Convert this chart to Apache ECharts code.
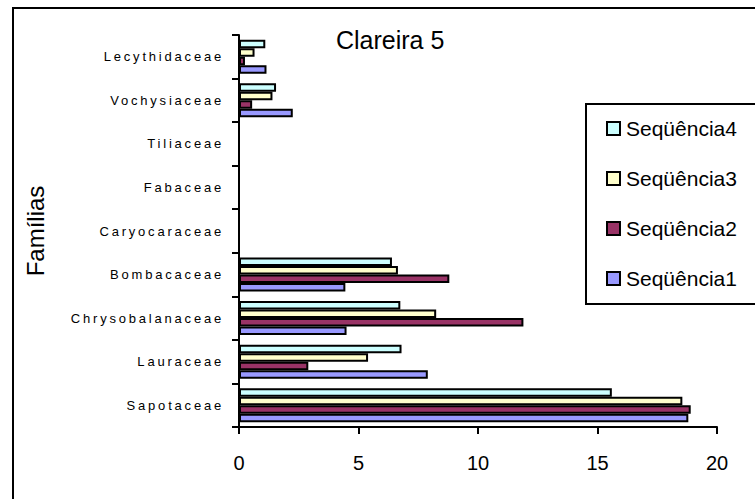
<!DOCTYPE html>
<html>
<head>
<meta charset="utf-8">
<script src="https://cdn.jsdelivr.net/npm/echarts@6/dist/echarts.min.js"></script>
<style>
  html, body { margin: 0; padding: 0; background: #fff; overflow: hidden; }
  #wrap { position: relative; width: 755px; height: 499px; }
  #chart { width: 755px; height: 499px; }
  /* outer frame: only its top and left edges lie inside the page */
  #frame {
    position: absolute; left: 12px; top: 7px; width: 741px; height: 490px;
    border-left: 2px solid #000; border-top: 2px solid #000;
    pointer-events: none; z-index: 5;
  }
  /* spaced-out family names on the category axis (right-anchored labels) */
  #chart text[text-anchor="end"] { letter-spacing: 2.8px; }
</style>
</head>
<body>
<div id="wrap">
  <div id="chart"></div>
  <div id="frame"></div>
</div>
<script>
// Families, listed bottom to top along the category axis
const families = ['Sapotaceae', 'Lauraceae', 'Chrysobalanaceae', 'Bombacaceae',
  'Caryocaraceae', 'Fabaceae', 'Tiliaceae', 'Vochysiaceae', 'Lecythidaceae'];

const seq1 = [18.8, 7.9, 4.5, 4.45, 0, 0, 0, 2.25, 1.15];
const seq2 = [18.9, 2.9, 11.9, 8.8, 0, 0, 0, 0.55, 0.25];
const seq3 = [18.55, 5.4, 8.25, 6.65, 0, 0, 0, 1.4, 0.65];
const seq4 = [15.6, 6.8, 6.75, 6.4, 0, 0, 0, 1.55, 1.1];

const seriesNames = ['Seqüência1', 'Seqüência2', 'Seqüência3', 'Seqüência4'];
const seriesColors = ['#9999FF', '#993366', '#FFFFCC', '#CCFFFF'];
const seriesValues = [seq1, seq2, seq3, seq4];

const xTicks = { min: 0, max: 20, interval: 5 };

const FONT = 'Liberation Sans, Arial, sans-serif';

// Within each family the first sequence sits lowest, so series are added
// in reverse (ECharts places the first series at the top of a horizontal band).
const barSeries = seriesNames.map((name, i) => ({
  name: name,
  type: 'bar',
  data: seriesValues[i],
  barGap: '0%',
  barCategoryGap: '22%',
  itemStyle: { color: seriesColors[i], borderColor: '#000', borderWidth: 2 }
})).reverse();

const chart = echarts.init(document.getElementById('chart'), null, { renderer: 'svg' });

chart.setOption({
  animation: false,
  title: {
    text: 'Clareira 5',
    left: 336,
    top: 27,
    padding: 0,
    textStyle: { fontFamily: FONT, fontSize: 25, fontWeight: 'normal', color: '#000' }
  },
  legend: {
    orient: 'vertical',
    left: 606,
    top: 118,
    padding: 0,
    itemWidth: 13,
    itemHeight: 13,
    itemGap: 29,
    icon: 'rect',
    data: ['Seqüência4', 'Seqüência3', 'Seqüência2', 'Seqüência1'],
    textStyle: { fontFamily: FONT, fontSize: 21, lineHeight: 20, color: '#000', padding: [0, 0, 0, 1] }
  },
  graphic: {
    elements: [
      // legend box
      {
        type: 'rect',
        shape: { x: 586, y: 104, width: 200, height: 200 },
        style: { fill: 'none', stroke: '#000', lineWidth: 2 },
        silent: true
      }
    ]
  },
  grid: { left: 239, right: 38, top: 35, bottom: 72, containLabel: false },
  xAxis: {
    type: 'value',
    min: xTicks.min,
    max: xTicks.max,
    interval: xTicks.interval,
    axisLine: { show: true, lineStyle: { color: '#000', width: 2 } },
    axisTick: { show: true, length: 7, lineStyle: { color: '#000', width: 2 } },
    splitLine: { show: false },
    axisLabel: { margin: 26, fontFamily: FONT, fontSize: 20, color: '#000' }
  },
  yAxis: {
    type: 'category',
    data: families,
    name: 'Famílias',
    nameLocation: 'middle',
    nameRotate: 90,
    nameGap: 192,
    nameTextStyle: { fontFamily: FONT, fontSize: 24, color: '#000' },
    axisLine: { show: true, lineStyle: { color: '#000', width: 2 } },
    axisTick: { show: true, length: 7, lineStyle: { color: '#000', width: 2 } },
    splitLine: { show: false },
    axisLabel: { margin: 15, fontFamily: FONT, fontSize: 13, color: '#000' }
  },
  series: barSeries
});
</script>
</body>
</html>
